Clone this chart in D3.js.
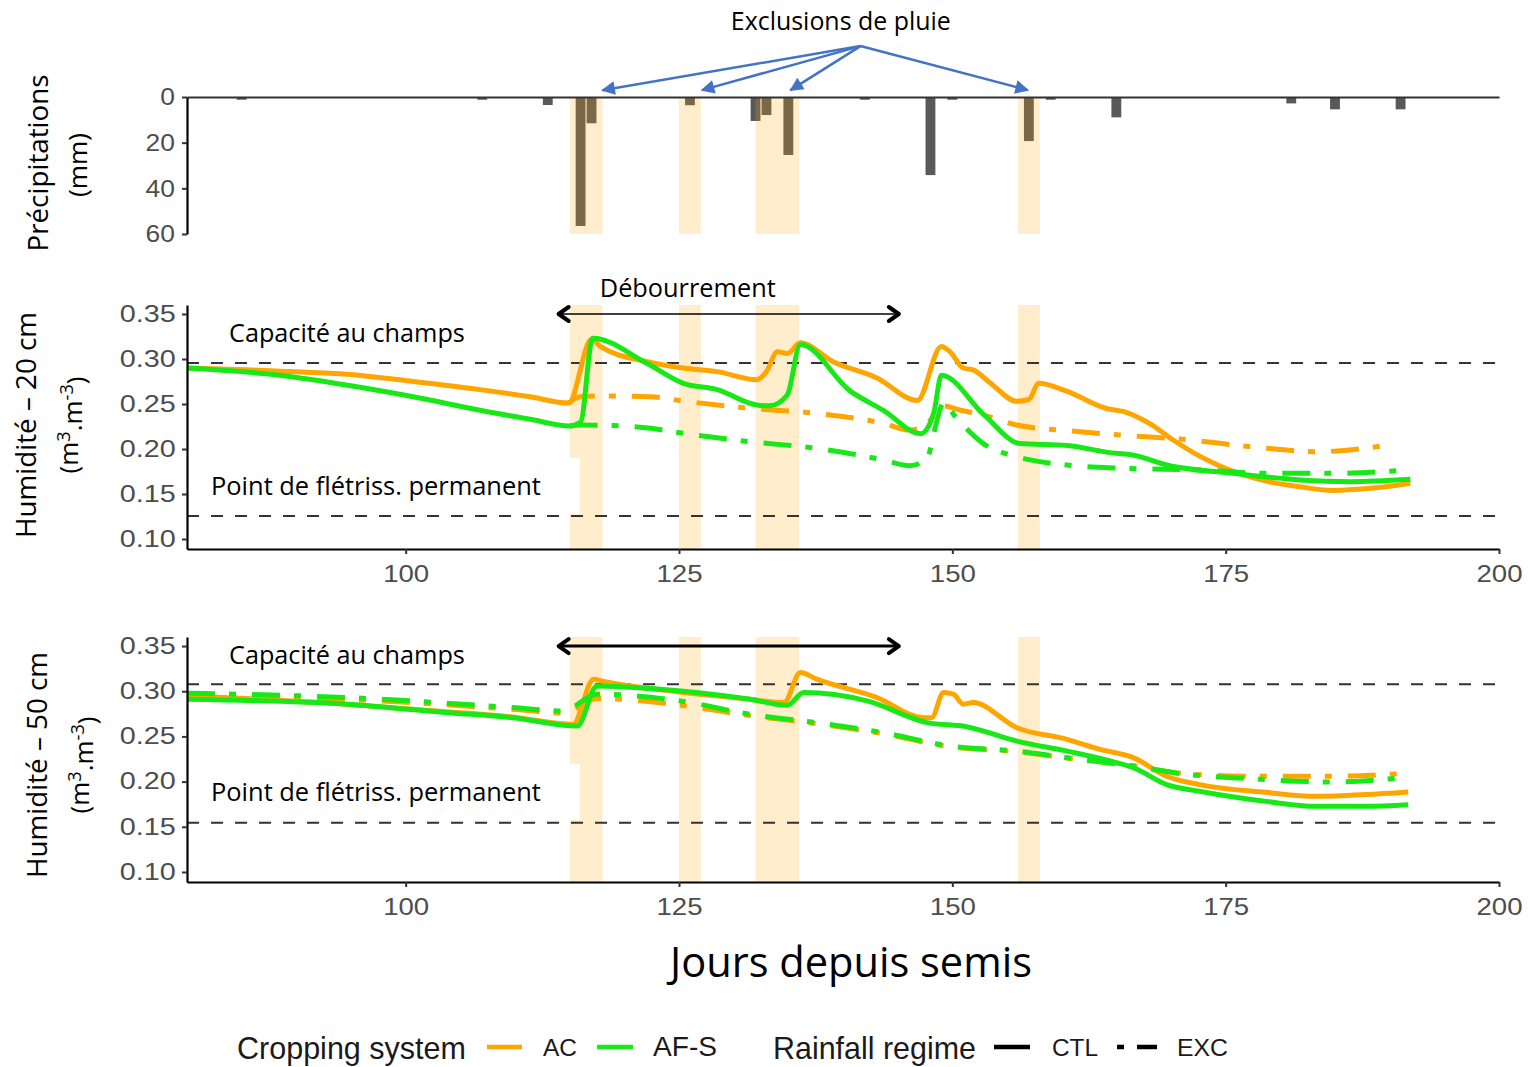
<!DOCTYPE html>
<html>
<head>
<meta charset="utf-8">
<script src="https://cdn.jsdelivr.net/npm/d3@7"></script>
<style>
  body { margin: 0; background: #ffffff; }
  svg { display: block; }
</style>
</head>
<body>
<svg id="chart" width="1530" height="1067"></svg>
<script>
// ---------------- data ----------------
// daily rainfall (days since sowing, mm)
const rainDays = [85, 107, 113, 116, 117, 126, 132, 133, 135, 142, 148, 150, 157, 159, 165, 181, 185, 191];
const rainMm   = [1.2, 1.2, 3.5, 56.5, 11.5, 3.6, 10.5, 7.9, 25.4, 1.2, 34.2, 1.2, 19.3, 1.2, 8.9, 2.8, 5.4, 5.4];

// rain exclusion periods (start / end day)
const exclusionStart = [115, 125, 132, 156];
const exclusionEnd   = [118, 127, 136, 158];

// budburst period
const budburst = [113.9, 145.2];

// soil water thresholds
const fieldCapacity20 = 0.2956, wiltingPoint20 = 0.1256;
const fieldCapacity50 = 0.3078, wiltingPoint50 = 0.1544;

// soil moisture at 20 cm [day, m3.m-3]
const h20_AC_CTL = [[80,0.290],[85.5,0.288],[89.4,0.286],[94.6,0.283],[100.7,0.275],[106.8,0.266],[111.4,0.258],[114.9,0.251],[117.0,0.322],[117.8,0.314],[122.1,0.297],[125.4,0.290],[128.5,0.286],[132.1,0.277],[133.0,0.286],[134.0,0.308],[134.9,0.306],[136.1,0.318],[139.1,0.297],[143.1,0.279],[146.8,0.254],[149.0,0.314],[149.8,0.308],[151.0,0.290],[151.9,0.288],[153.5,0.273],[155.9,0.253],[157.0,0.255],[157.9,0.273],[160.5,0.264],[164.1,0.245],[165.7,0.2415],[167.2,0.234],[168.1,0.228],[170.2,0.210],[172.7,0.1915],[175.7,0.175],[178.8,0.164],[181.8,0.158],[184.8,0.154],[188.0,0.156],[191.9,0.162]];
const h20_AFS_CTL = [[80,0.290],[85,0.286],[88.5,0.282],[91.5,0.277],[96.1,0.268],[100.7,0.258],[106.8,0.243],[111.4,0.233],[115.0,0.2256],[116.0,0.230],[117.1,0.323],[122.1,0.295],[125.4,0.273],[128.5,0.266],[132.1,0.249],[133.3,0.248],[134.9,0.260],[136.1,0.316],[140.7,0.264],[143.7,0.243],[147.1,0.217],[148.3,0.240],[149.0,0.282],[152.9,0.238],[156.2,0.206],[160.5,0.204],[164.4,0.196],[166.6,0.193],[169.7,0.182],[175.7,0.173],[181.8,0.1656],[186.4,0.1637],[191.9,0.1663]];
const h20_AC_EXC = [[114.9,0.251],[116,0.258],[118,0.259],[122.4,0.258],[125.4,0.2533],[131.5,0.2452],[137.6,0.2396],[143.7,0.2285],[146.1,0.2211],[147.7,0.2285],[149.2,0.2478],[150.7,0.2433],[152.8,0.2378],[155.9,0.2267],[160.5,0.2204],[165.3,0.2156],[171.1,0.2108],[177.3,0.2026],[183.4,0.197],[190.5,0.2056]];
const h20_AFS_EXC = [[115,0.2256],[116,0.2267],[119,0.226],[122.4,0.223],[125.4,0.2174],[131.5,0.2081],[137.6,0.2007],[143.7,0.1878],[146.1,0.1815],[147.7,0.1896],[148.3,0.2174],[149.2,0.2507],[150.4,0.2341],[152.8,0.2063],[155.9,0.1915],[160.5,0.1822],[165.6,0.1785],[172.7,0.1767],[178.8,0.173],[184.8,0.173],[190.8,0.1759]];

// soil moisture at 50 cm [day, m3.m-3]
const h50_AC_CTL = [[80,0.2948],[91.5,0.288],[100.7,0.280],[109.8,0.2715],[115.3,0.2633],[117.2,0.3133],[118,0.311],[122.4,0.303],[131.5,0.2911],[134.6,0.2874],[136.1,0.3207],[137.6,0.3133],[143.1,0.293],[147.4,0.2707],[148.1,0.2707],[149.2,0.2985],[150.1,0.2967],[151.0,0.2856],[151.9,0.2874],[155.9,0.2596],[160.5,0.2467],[163.5,0.2356],[166.6,0.2263],[169.6,0.2059],[172.6,0.1967],[178.7,0.1881],[183.2,0.1837],[187.8,0.1856],[191.7,0.1885]];
const h50_AFS_CTL = [[80,0.2911],[94.6,0.2856],[103.8,0.2763],[109.8,0.2707],[115.7,0.2615],[117.5,0.3059],[122.4,0.303],[131.5,0.2911],[134.9,0.2844],[136.4,0.2985],[142.2,0.2893],[147.7,0.2652],[151.3,0.2607],[155.9,0.2448],[160.5,0.2337],[165.1,0.2207],[166.6,0.2152],[169.6,0.1967],[172.6,0.1893],[178.7,0.1781],[183.2,0.1726],[187.8,0.1726],[191.7,0.1744]];
const h50_AC_EXC = [[80,0.296],[94.6,0.291],[109.8,0.280],[114.4,0.276],[117.5,0.292],[125.1,0.2844],[131.5,0.273],[137.6,0.264],[143.7,0.253],[149.8,0.2385],[155.9,0.233],[160.5,0.226],[166.6,0.2175],[171.1,0.2089],[177.1,0.206],[184.7,0.206],[191.1,0.2089]];
const h50_AFS_EXC = [[80,0.2978],[94.6,0.293],[109.8,0.2819],[114.4,0.2781],[117.5,0.2967],[125.1,0.2893],[131.5,0.2744],[137.6,0.2652],[143.7,0.2541],[149.8,0.2393],[155.9,0.2337],[160.5,0.2263],[166.6,0.217],[171.1,0.2085],[177.1,0.2033],[184.7,0.1996],[191.1,0.2041]];

// axis ticks
const xTicks = [100, 125, 150, 175, 200];
const rainTicks = [0, 20, 40, 60];
const moistTicks = [0.10, 0.15, 0.20, 0.25, 0.30, 0.35];

// ---------------- styles ----------------
const systemColor = { "AC": "#FFA500", "AF-S": "#18e818" };
const regimeDash = { "CTL": null, "EXC": "28,14,7,16" };
const calibriLike = "'Open Sans', 'Noto Sans', sans-serif";
const arialLike = "'Liberation Sans', Arial, sans-serif";

// ---------------- scales ----------------
const svg = d3.select("#chart");
const x = d3.scaleLinear().domain([80, 200]).range([187, 1499]);
const yRain = d3.scaleLinear().domain([0, 60]).range([97, 234]);
const y20 = d3.scaleLinear().domain([0.0889, 0.36]).range([549, 305]);
const y50 = d3.scaleLinear().domain([0.0889, 0.36]).range([882, 637]);

// scale text so that it spans a given width
function fit(sel, width) {
  const node = sel.node();
  const fs = parseFloat(sel.attr("font-size"));
  const w = node.getComputedTextLength();
  if (w > 0) sel.attr("font-size", (fs * width / w).toFixed(2));
  return sel;
}

function styleAxis(g, stretch, size) {
  g.select(".domain").attr("stroke", "#000").attr("stroke-width", 2.2);
  g.selectAll(".tick line").attr("stroke", "#333").attr("stroke-width", 2);
  g.selectAll(".tick text")
    .attr("fill", "#4d4d4d")
    .attr("font-family", arialLike)
    .attr("font-size", size)
    .attr("transform", `scale(${stretch},1)`);
}

const bandData = exclusionStart.map((s, i) => [s, exclusionEnd[i]]);

// ---------------- rainfall panel ----------------
const gRain = svg.append("g");
gRain.selectAll("rect.bar")
  .data(rainDays.map((d, i) => ({ day: d, mm: rainMm[i] })))
  .join("rect")
  .attr("class", "bar")
  .attr("x", d => x(d.day - 0.45))
  .attr("width", d => x(d.day + 0.45) - x(d.day - 0.45))
  .attr("y", yRain(0))
  .attr("height", d => yRain(d.mm) - yRain(0))
  .attr("fill", "#595959");

gRain.selectAll("rect.band")
  .data(bandData)
  .join("rect")
  .attr("class", "band")
  .attr("x", d => x(d[0]))
  .attr("width", d => x(d[1]) - x(d[0]))
  .attr("y", yRain(0))
  .attr("height", yRain(60) - yRain(0))
  .attr("fill", "#FFA500")
  .attr("opacity", 0.2);

const rainTop = gRain.append("g")
  .attr("transform", `translate(0,${yRain(0)})`)
  .call(d3.axisTop(x).tickValues([]).tickSizeOuter(0));
rainTop.select(".domain").attr("stroke", "#333").attr("stroke-width", 2.2);

const rainLeft = gRain.append("g")
  .attr("transform", `translate(${x(80)},0)`)
  .call(d3.axisLeft(yRain).tickValues(rainTicks).tickSize(5).tickPadding(6).tickSizeOuter(0));
styleAxis(rainLeft, 1.1, 24);

// rainfall y title
const rainTitle = svg.append("g").attr("font-family", calibriLike).attr("fill", "#000");
fit(rainTitle.append("text").attr("transform", "translate(48,163) rotate(-90)")
  .attr("text-anchor", "middle").attr("font-size", 24).text("Précipitations"), 177);
fit(rainTitle.append("text").attr("transform", "translate(87,165) rotate(-90)")
  .attr("text-anchor", "middle").attr("font-size", 24).text("(mm)"), 64);

// "Exclusions de pluie" callout
const blue = "#4472C4";
const defs = svg.append("defs");
defs.append("marker")
  .attr("id", "blueHead").attr("viewBox", "0 0 10 10")
  .attr("refX", 9).attr("refY", 5)
  .attr("markerWidth", 6).attr("markerHeight", 5.5)
  .attr("orient", "auto")
  .append("path").attr("d", "M0,0L10,5L0,10z").attr("fill", blue);

const calloutOrigin = [141.6, -22.3];
const calloutTargets = [118, 127.1, 135.2, 156.9];
svg.append("g").selectAll("line")
  .data(calloutTargets)
  .join("line")
  .attr("x1", x(calloutOrigin[0])).attr("y1", yRain(calloutOrigin[1]))
  .attr("x2", d => x(d)).attr("y2", yRain(-3))
  .attr("stroke", blue).attr("stroke-width", 2.5)
  .attr("marker-end", "url(#blueHead)");

fit(svg.append("text").attr("x", x(139.8)).attr("y", 30)
  .attr("text-anchor", "middle").attr("font-family", calibriLike)
  .attr("font-size", 24).attr("fill", "#000").text("Exclusions de pluie"), 220);

// ---------------- soil moisture panels ----------------
function moisturePanel(y, series, fc, pwp, opt) {
  const g = svg.append("g");
  const top = y.range()[1], bottom = y.range()[0];

  g.selectAll("rect.band")
    .data(bandData)
    .join("rect")
    .attr("class", "band")
    .attr("x", d => x(d[0]))
    .attr("width", d => x(d[1]) - x(d[0]))
    .attr("y", top)
    .attr("height", bottom - top)
    .attr("fill", "#FFA500")
    .attr("opacity", 0.2);

  // threshold lines
  g.selectAll("line.ref")
    .data([fc, pwp])
    .join("line")
    .attr("class", "ref")
    .attr("x1", x(80)).attr("x2", x(200))
    .attr("y1", d => y(d)).attr("y2", d => y(d))
    .attr("stroke", "#333").attr("stroke-width", 2)
    .attr("stroke-dasharray", "12,12");

  // labels for the thresholds
  g.append("rect")
    .attr("x", 200).attr("width", 380)
    .attr("y", opt.pwpBaseline - 37).attr("height", 56)
    .attr("fill", "#fff");
  fit(g.append("text").attr("x", 229).attr("y", opt.fcBaseline)
    .attr("font-family", calibriLike).attr("font-size", 22).attr("fill", "#000")
    .text("Capacité au champs"), 236);
  fit(g.append("text").attr("x", 211).attr("y", opt.pwpBaseline)
    .attr("font-family", calibriLike).attr("font-size", 22).attr("fill", "#000")
    .text("Point de flétriss. permanent"), 330);

  // moisture curves
  const line = d3.line().x(d => x(d[0])).y(d => y(d[1])).curve(d3.curveMonotoneX);
  g.selectAll("path.series")
    .data(series)
    .join("path")
    .attr("class", "series")
    .attr("d", d => line(d.values))
    .attr("fill", "none")
    .attr("stroke", d => systemColor[d.system])
    .attr("stroke-width", 5)
    .attr("stroke-linejoin", "round")
    .attr("stroke-dasharray", d => regimeDash[d.regime]);

  // axes
  const ax = g.append("g").attr("transform", `translate(${x(80)},0)`)
    .call(d3.axisLeft(y).tickValues(moistTicks).tickFormat(d3.format(".2f"))
      .tickSize(5).tickPadding(4).tickSizeOuter(0));
  styleAxis(ax, 1.25, 23);
  const bx = g.append("g").attr("transform", `translate(0,${bottom})`)
    .call(d3.axisBottom(x).tickValues(xTicks).tickSize(5).tickPadding(10).tickSizeOuter(0));
  styleAxis(bx, 1.15, 24);
  bx.selectAll(".tick text").attr("dy", "0.75em");

  // budburst arrow
  const ya = y(0.35);
  const xa = x(budburst[0]), xb = x(budburst[1]);
  g.append("line").attr("x1", xa + 2).attr("x2", xb - 2).attr("y1", ya).attr("y2", ya)
    .attr("stroke", "#000").attr("stroke-width", opt.arrowWidth);
  g.append("path").attr("d", `M${xa + 11},${ya - 7}L${xa + 1},${ya}L${xa + 11},${ya + 7}`)
    .attr("fill", "none").attr("stroke", "#000").attr("stroke-width", 4)
    .attr("stroke-linejoin", "round").attr("stroke-linecap", "round");
  g.append("path").attr("d", `M${xb - 11},${ya - 7}L${xb - 1},${ya}L${xb - 11},${ya + 7}`)
    .attr("fill", "none").attr("stroke", "#000").attr("stroke-width", 4)
    .attr("stroke-linejoin", "round").attr("stroke-linecap", "round");

  // y title
  const t = g.append("g").attr("font-family", calibriLike).attr("fill", "#000");
  fit(t.append("text").attr("transform", `translate(${opt.titleX},${opt.titleY}) rotate(-90)`)
    .attr("text-anchor", "middle").attr("font-size", 24).text(opt.title), 226);
  const u = t.append("text").attr("transform", `translate(${opt.titleX + 42},${opt.titleY}) rotate(-90)`)
    .attr("text-anchor", "middle").attr("font-size", 26);
  u.append("tspan").text("(m");
  u.append("tspan").attr("dy", "-0.45em").attr("font-size", "70%").text("3");
  u.append("tspan").attr("dy", "0.45em").text(".m");
  u.append("tspan").attr("dy", "-0.45em").attr("font-size", "70%").text("-3");
  u.append("tspan").attr("dy", "0.45em").text(")");
  return g;
}

moisturePanel(y20, [
  { system: "AC", regime: "CTL", values: h20_AC_CTL },
  { system: "AC", regime: "EXC", values: h20_AC_EXC },
  { system: "AF-S", regime: "CTL", values: h20_AFS_CTL },
  { system: "AF-S", regime: "EXC", values: h20_AFS_EXC }
], fieldCapacity20, wiltingPoint20,
  { fcBaseline: 342, pwpBaseline: 495, arrowWidth: 1.6, title: "Humidité – 20 cm", titleX: 36, titleY: 425 });

moisturePanel(y50, [
  { system: "AC", regime: "CTL", values: h50_AC_CTL },
  { system: "AC", regime: "EXC", values: h50_AC_EXC },
  { system: "AF-S", regime: "CTL", values: h50_AFS_CTL },
  { system: "AF-S", regime: "EXC", values: h50_AFS_EXC }
], fieldCapacity50, wiltingPoint50,
  { fcBaseline: 664, pwpBaseline: 801, arrowWidth: 3, title: "Humidité – 50 cm", titleX: 47, titleY: 765 });

// budburst label
fit(svg.append("text").attr("x", x(125.8)).attr("y", 297)
  .attr("text-anchor", "middle").attr("font-family", calibriLike)
  .attr("font-size", 22).attr("fill", "#000").text("Débourrement"), 176);

// x title
fit(svg.append("text").attr("x", 851).attr("y", 977)
  .attr("text-anchor", "middle").attr("font-family", calibriLike)
  .attr("font-size", 38).attr("fill", "#000").text("Jours depuis semis"), 362);

// ---------------- legend ----------------
const lg = svg.append("g").attr("font-family", arialLike).attr("fill", "#1a1a1a");
const legendY = 1047;
fit(lg.append("text").attr("x", 237).attr("y", legendY + 12).attr("font-size", 28).text("Cropping system"), 229);
fit(lg.append("text").attr("x", 773).attr("y", legendY + 12).attr("font-size", 28).text("Rainfall regime"), 203);

const legendKeys = [
  { x0: 487, x1: 522, color: systemColor["AC"], dash: null, label: "AC", lx: 543, lw: 34 },
  { x0: 597, x1: 633, color: systemColor["AF-S"], dash: null, label: "AF-S", lx: 653, lw: 64 },
  { x0: 994, x1: 1030, color: "#000", dash: null, label: "CTL", lx: 1052, lw: 46 },
  { x0: 1117, x1: 1157, color: "#000", dash: "7,13,20", label: "EXC", lx: 1177, lw: 51 }
];
legendKeys.forEach(k => {
  lg.append("line").attr("x1", k.x0).attr("x2", k.x1).attr("y1", legendY).attr("y2", legendY)
    .attr("stroke", k.color).attr("stroke-width", 4.5).attr("stroke-dasharray", k.dash);
  fit(lg.append("text").attr("x", k.lx).attr("y", legendY + 9).attr("font-size", 23).text(k.label), k.lw);
});
</script>
</body>
</html>
